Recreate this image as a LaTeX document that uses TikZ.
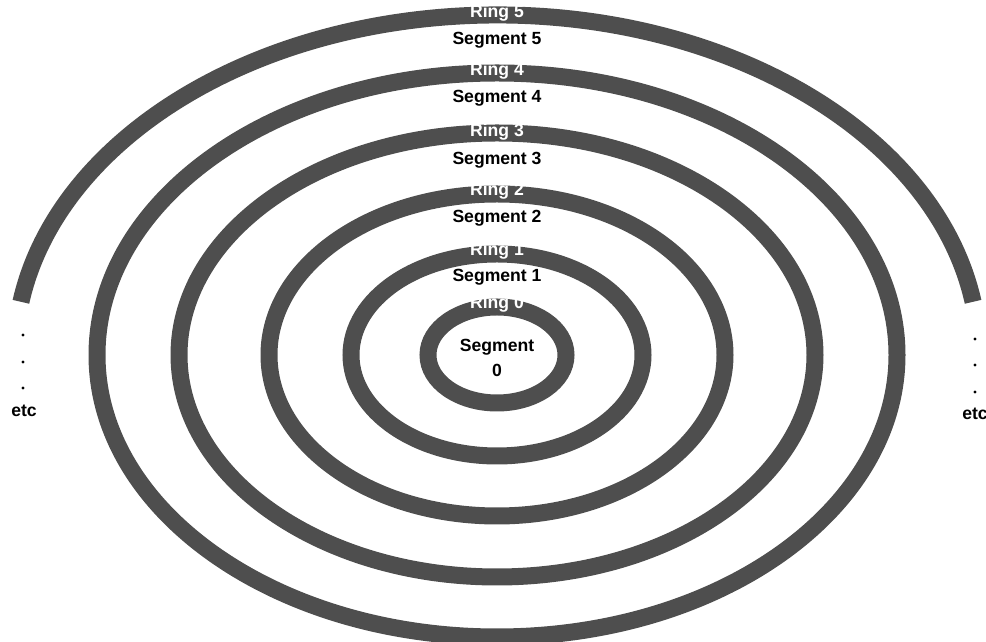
\documentclass[tikz,border=0pt]{standalone}
\usepackage{fontspec}
\setmainfont{Liberation Sans}
\definecolor{ringgray}{RGB}{78,78,78}

\begin{document}
\begin{tikzpicture}[x=0.5pt,y=0.5pt,
    ring/.style={ringgray,line width=8.5pt},
    seglabel/.style={font=\fontsize{8.8}{10}\selectfont\bfseries,inner sep=0pt,anchor=base},
    ringlabel/.style={seglabel,white}]
  \useasboundingbox (0,0) rectangle (986,642);
  \coordinate (O) at (497,287);
  % rings, inner to outer
  \draw[ring] (O) ellipse [x radius=69, y radius=48];
  \draw[ring] (O) ellipse [x radius=146, y radius=101];
  \draw[ring] (O) ellipse [x radius=228, y radius=161];
  \draw[ring] (O) ellipse [x radius=318, y radius=222];
  \draw[ring] (O) ellipse [x radius=400, y radius=282];
  \draw[ring] (O) ++(9:482 and 340) coordinate (r5r)
    arc [start angle=9, end angle=171, x radius=482, y radius=340] coordinate (r5l);
  % ring names on the bands
  \node[ringlabel] (ring0) at (497,333) {Ring 0};
  \node[ringlabel] (ring1) at (497,386) {Ring 1};
  \node[ringlabel] (ring2) at (497,446) {Ring 2};
  \node[ringlabel] (ring3) at (497,505) {Ring 3};
  \node[ringlabel] (ring4) at (497,566) {Ring 4};
  \node[ringlabel] (ring5) at (497,624) {Ring 5};
  % segments between the bands
  \node[seglabel] (seg0) at (497,290) {Segment};
  \node[seglabel] (seg0b) at (497,265) {0};
  \node[seglabel] (seg1) at (497,360) {Segment 1};
  \node[seglabel] (seg2) at (497,419) {Segment 2};
  \node[seglabel] (seg3) at (497,477) {Segment 3};
  \node[seglabel] (seg4) at (497,539) {Segment 4};
  \node[seglabel] (seg5) at (497,597) {Segment 5};
  % continuation marks
  \fill (23,307) circle (1.6) (23,280) circle (1.6) (23,254) circle (1.6);
  \node[seglabel] (etcl) at (24,225) {etc};
  \fill (975,303) circle (1.6) (975,277) circle (1.6) (975,250) circle (1.6);
  \node[seglabel] (etcr) at (975,222) {etc};
\end{tikzpicture}
\end{document}
